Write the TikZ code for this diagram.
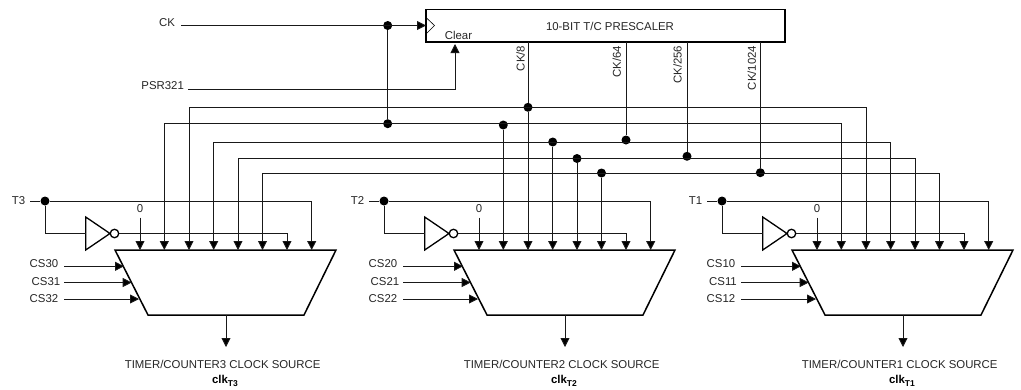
\documentclass[tikz,border=0pt]{standalone}
\usepackage{fontspec}
\setmainfont{Liberation Sans}
\usetikzlibrary{arrows.meta,calc}
\tikzset{
  wire/.style={line width=0.85pt,black!90},
  arr/.style={wire,-{Triangle[length=9pt,width=9pt,fill=black]}},
  barr/.style={wire,{Triangle[length=9pt,width=9pt,fill=black]}-{Triangle[length=9pt,width=9pt,fill=black]}},
  thick box/.style={line width=1.5pt,black},
  dot/.style={circle,fill=black,inner sep=0pt,minimum size=9pt},
  lbl/.style={font=\fontsize{11.4pt}{13pt}\selectfont,inner sep=0pt,text=black!85},
  bold lbl/.style={inner sep=0pt,font=\fontsize{11.4pt}{13pt}\selectfont\bfseries},
}
\newcommand{\clklbl}[1]{clk\raisebox{-3pt}{\fontsize{8.5pt}{9pt}\selectfont #1}}
\begin{document}
\begin{tikzpicture}[x=1pt,y=-1pt]
\useasboundingbox (0,0) rectangle (1021,389);
% prescaler
\coordinate (pa) at (426,9.5); \coordinate (pb) at (785,9.5);
\coordinate (pc) at (785,42); \coordinate (pd) at (426,42);
\draw[thick box] (pa)--(pb)--(pc)--(pd)--cycle;
\coordinate (ct) at (426,17.5); \coordinate (cm) at (434.5,25.5); \coordinate (cb) at (426,34);
\draw[line width=0.6pt] (ct)--(cm)--(cb);
\node[lbl] (title) at (610,26) {10-BIT T/C PRESCALER};
\node[lbl] (clear) at (458.5,35) {Clear};
\node[lbl] (cklbl) at (167,23) {CK};
\node[lbl] (psrlbl) at (162.7,86) {PSR321};
\coordinate (ckstart) at (181,25.5);
\coordinate (ckin) at (426,25.5);
\node[dot] (ckdot) at (387.7,25.5) {};
\draw[arr] (ckstart) -- (ckin);
\coordinate (psrstart) at (188,89.5);
\coordinate (psrturn) at (455,89.5);
\coordinate (psrtip) at (455,44);
\draw[arr] (psrstart) -- (psrturn) -- (psrtip);
% taps
\coordinate (t8) at (528,42); \coordinate (t64) at (626,42);
\coordinate (t256) at (687,42); \coordinate (t1024) at (760.3,42);
\node[lbl,rotate=90,anchor=east] (l8) at (520.5,45.5) {CK/8};
\node[lbl,rotate=90,anchor=east] (l64) at (616.7,45.5) {CK/64};
\node[lbl,rotate=90,anchor=east] (l256) at (677.5,45.5) {CK/256};
\node[lbl,rotate=90,anchor=east] (l1024) at (751.7,45.5) {CK/1024};
\node[dot] (d8) at (528,107.3) {};
\node[dot] (dck) at (387.7,123.7) {};
\node[dot] (d64) at (626,140) {};
\node[dot] (d256) at (687,156.3) {};
\node[dot] (d1024) at (760.3,172.7) {};
\draw[wire] (ckdot) -- (dck);
\draw[wire] (t64) -- (d64);
\draw[wire] (t256) -- (d256);
\draw[wire] (t1024) -- (d1024);
% blocks
\foreach \n/\o/\t/\cz in {3/0/T3/3, 2/339/T2/2, 1/677/T1/1}{
  \begin{scope}[shift={(\o,0)}]
    \coordinate (tl\n) at (115,250); \coordinate (tr\n) at (336,250);
    \coordinate (br\n) at (304,315); \coordinate (bl\n) at (148,315);
    \draw[thick box,line join=miter] (tl\n)--(tr\n)--(br\n)--(bl\n)--cycle;
    % input tips
    \coordinate (i0\n) at (140,250);
    \coordinate (i1\n) at (164.3,250);
    \coordinate (i2\n) at (189,250);
    \coordinate (i3\n) at (213.7,250);
    \coordinate (i4\n) at (238,250);
    \coordinate (i5\n) at (262.5,250);
    \coordinate (i6\n) at (287,250);
    \coordinate (i7\n) at (311.7,250);
    % T input
    \node[lbl] (tlbl\n) at (18.5,201) {\t};
    \coordinate (tstart\n) at (30,201);
    \node[dot] (tdot\n) at (45,201) {};
    \draw[wire] (tstart\n) -- (tdot\n);
    \coordinate (tturn\n) at (311.7,201);
    \draw[arr] (tdot\n) -- (tturn\n) -- (i7\n);
    % inverter
    \coordinate (inva\n) at (85.7,217); \coordinate (invb\n) at (85.7,250);
    \coordinate (invc\n) at (110,233.5); \coordinate (invin\n) at (85.7,233.5);
    \coordinate (invcor\n) at (45,233.5);
    \draw[line width=1.3pt,black] (inva\n)--(invc\n)--(invb\n)--cycle;
    \node[circle,draw=black,line width=1.3pt,fill=white,inner sep=0pt,minimum size=8.5pt] (bub\n) at (114.5,233.5) {};
    \draw[wire] (tdot\n) -- (invcor\n) -- (invin\n);
    \coordinate (nturn\n) at (287,233.5);
    \draw[arr] (bub\n) -- (nturn\n) -- (i6\n);
    % zero
    \node[lbl] (zero\n) at (140,209) {0};
    \coordinate (zs\n) at (140,217.5);
    \draw[arr] (zs\n) -- (i0\n);
    % CS inputs
    \node[lbl] (csa\n) at (44,264) {CS\cz0};
    \node[lbl] (csb\n) at (46,282) {CS\cz1};
    \node[lbl] (csc\n) at (44,299) {CS\cz2};
    \coordinate (csas\n) at (64,266.3); \coordinate (csae\n) at (124,266.3);
    \coordinate (csbs\n) at (64,282.5); \coordinate (csbe\n) at (131.7,282.5);
    \coordinate (cscs\n) at (64,299); \coordinate (csce\n) at (139,299);
    \draw[arr] (csas\n) -- (csae\n);
    \draw[arr] (csbs\n) -- (csbe\n);
    \draw[arr] (cscs\n) -- (csce\n);
    % output
    \coordinate (outs\n) at (226,315); \coordinate (oute\n) at (226,347);
    \draw[arr] (outs\n) -- (oute\n);
    \node[lbl] (src\n) at (222.7,364) {TIMER/COUNTER\cz{} CLOCK SOURCE};
    \node[bold lbl] (clk\n) at (225,381) {\clklbl{\t}};
  \end{scope}
}
% bus corners
\coordinate (c1a) at (189,107.3);   \coordinate (c1b) at (866,107.3);
\coordinate (c2a) at (164.3,123.7); \coordinate (c2b) at (841.3,123.7);
\coordinate (c3a) at (213.7,142);   \coordinate (c3b) at (890.7,142);
\coordinate (c4a) at (238,158.5);   \coordinate (c4b) at (915,158.5);
\coordinate (c5a) at (262.5,173.7); \coordinate (c5b) at (939.5,173.7);
% junctions on buses for block 2
\node[dot] (j1) at (503.3,125) {};
\node[dot] (j2) at (552.7,142) {};
\node[dot] (j3) at (577,158.5) {};
\node[dot] (j4) at (601.5,173) {};
% buses
\draw[arr] (t8) -- (d8) -- (i22);
\draw[barr] (i23) -- (c1a) -- (c1b) -- (i21);
\draw[barr] (i13) -- (c2a) -- (c2b) -- (i11);
\draw[arr] (j1) -- (i12);
\draw[barr] (i33) -- (c3a) -- (c3b) -- (i31);
\draw[arr] (j2) -- (i32);
\draw[barr] (i43) -- (c4a) -- (c4b) -- (i41);
\draw[arr] (j3) -- (i42);
\draw[barr] (i53) -- (c5a) -- (c5b) -- (i51);
\draw[arr] (j4) -- (i52);
\end{tikzpicture}
\end{document}
